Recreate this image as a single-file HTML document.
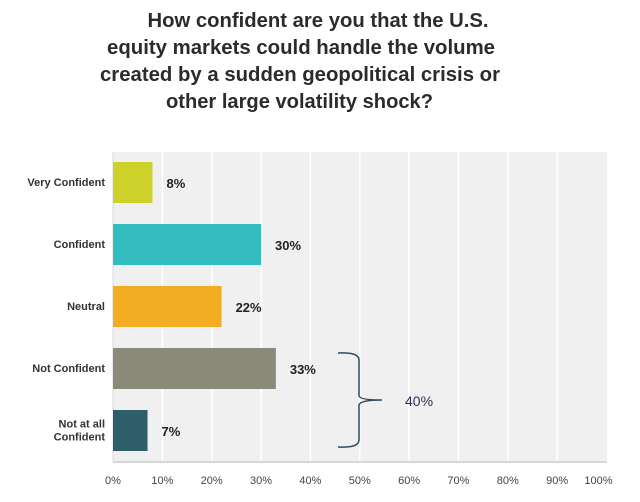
<!DOCTYPE html>
<html><head><meta charset="utf-8"><style>
body{margin:0;background:#fff;width:640px;height:497px;overflow:hidden;font-family:"Liberation Sans",Arial,sans-serif}
</style></head><body>
<svg width="640" height="497">
<g font-size="20" font-weight="bold" fill="#2b2b2b" text-anchor="middle">
<text x="318" y="27" textLength="341" lengthAdjust="spacingAndGlyphs">How confident are you that the U.S.</text>
<text x="301" y="54" textLength="388" lengthAdjust="spacingAndGlyphs">equity markets could handle the volume</text>
<text x="300" y="81" textLength="400" lengthAdjust="spacingAndGlyphs">created by a sudden geopolitical crisis or</text>
<text x="299.5" y="108" textLength="267" lengthAdjust="spacingAndGlyphs">other large volatility shock?</text>
</g>
<rect x="113" y="152" width="494" height="310" fill="#f0f0f0"/>
<g id="grid"></g>
<line x1="113" y1="462" x2="607" y2="462" stroke="#d8d8d8" stroke-width="2"/>
<line x1="113" y1="152" x2="113" y2="462" stroke="#d8d8d8" stroke-width="1"/>
<g id="bars"></g>
<g id="ticks" font-size="11" fill="#444"></g>
<path d="M338,353 Q359,352 359,360 L359,396 Q360,400 382,400 Q360,400 359,405 L359,440 Q359,448 338,447" fill="none" stroke="#2e4a5c" stroke-width="1.5"/>
<text x="405" y="406" font-size="14" fill="#2a2f55">40%</text>
</svg>
<script>
const categories=["Very Confident","Confident","Neutral","Not Confident","Not at all|Confident"];
const values=[8,30,22,33,7];
const valueLabels=["8%","30%","22%","33%","7%"];
const colors=["#cdd22a","#32bcbd","#f3ad22","#898a7a","#2e5e6a"];
const ticks=[0,10,20,30,40,50,60,70,80,90,100];
const NS="http://www.w3.org/2000/svg";
const x0=113,x1=606.5;
const xs=v=>x0+(x1-x0)*v/100;
const ys=i=>162+i*62;
function mk(t,a,p){const e=document.createElementNS(NS,t);for(const k in a)e.setAttribute(k,a[k]);p.appendChild(e);return e;}
const grid=document.getElementById('grid'),bars=document.getElementById('bars'),tk=document.getElementById('ticks');
ticks.forEach(t=>{
 if(t>0&&t<100){const l=mk('line',{x1:xs(t),x2:xs(t),y1:152,y2:462,stroke:'#fff','stroke-width':1.5},grid);
 
 }
 const tx=mk('text',{x:xs(t)+(t==100?-8:0),y:484,'text-anchor':'middle'},tk);tx.textContent=t+'%';
 
 
});
categories.forEach((c,i)=>{
 const y=ys(i);
 const r=mk('rect',{x:x0,y:y,width:xs(values[i])-x0,height:41,fill:colors[i]},bars);
 
 
 const v=mk('text',{x:xs(values[i])+14,y:y+26,'font-size':13,'font-weight':'bold',fill:'#222'},bars);v.textContent=valueLabels[i];
 
 
 const parts=c.split('|');
 const lb=mk('text',{x:105,'text-anchor':'end','font-size':11,'font-weight':'bold',fill:'#333'},bars);
 
 
 parts.forEach((p,j)=>{const s=mk('tspan',{x:105,y:y+24+(j-(parts.length-1)/2)*13},lb);s.textContent=p;});
});
</script>
</body></html>
